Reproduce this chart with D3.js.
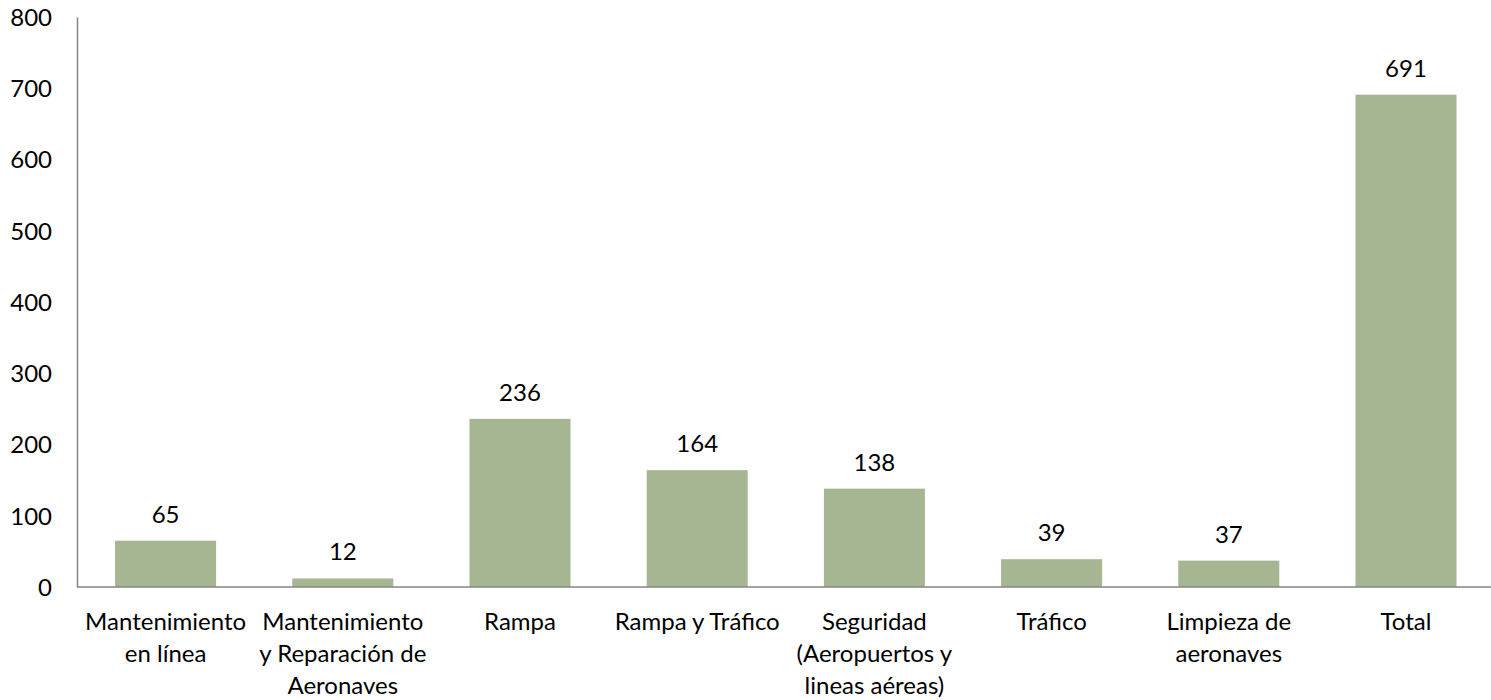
<!DOCTYPE html>
<html>
<head>
<meta charset="utf-8">
<script src="https://cdn.jsdelivr.net/npm/d3@7"></script>
<style>
  body { margin: 0; background: #fff; }
  svg text { font-family: Lato, "Open Sans", sans-serif; fill: #000; }
</style>
</head>
<body>
<svg id="chart"></svg>
<script>
// Category labels (line breaks as in the original)
var categories = [
    "Mantenimiento\nen línea",
    "Mantenimiento\ny Reparación de\nAeronaves",
    "Rampa",
    "Rampa y Tráfico",
    "Seguridad\n(Aeropuertos y\nlineas aéreas)",
    "Tráfico",
    "Limpieza de\naeronaves",
    "Total"
];
var values = [65, 12, 236, 164, 138, 39, 37, 691];
var yTicks = [0, 100, 200, 300, 400, 500, 600, 700, 800];

var width = 1491;
var height = 700;
var fontSize = 24;

var svg = d3.select("#chart")
    .attr("width", width)
    .attr("height", height);

// scales
var x = d3.scaleBand()
    .domain(categories)
    .range([77, 1494.6])
    .paddingInner(0.43)
    .paddingOuter(0.215);

var y = d3.scaleLinear()
    .domain([0, 800])
    .range([587, 17]);

// bars
svg.selectAll(".bar")
    .data(values)
    .enter().append("rect")
    .attr("class", "bar")
    .attr("x", function(d, i) { return x(categories[i]); })
    .attr("width", x.bandwidth())
    .attr("y", function(d) { return y(d); })
    .attr("height", function(d) { return y(0) - y(d); })
    .attr("fill", "#a6b592");

// value labels
svg.selectAll(".val")
    .data(values)
    .enter().append("text")
    .attr("class", "val")
    .attr("x", function(d, i) { return x(categories[i]) + x.bandwidth() / 2; })
    .attr("y", function(d) { return y(d) - 18; })
    .attr("text-anchor", "middle")
    .style("font-size", fontSize + "px")
    .text(function(d) { return d; });

// y axis (no tick marks, just the line and labels)
var yAxis = svg.append("g")
    .attr("transform", "translate(77,0)")
    .call(d3.axisLeft(y).tickValues(yTicks).tickSize(0).tickPadding(25));
yAxis.select(".domain").attr("stroke", "#868686").attr("stroke-width", 1.5);
yAxis.selectAll("text")
    .style("font-size", fontSize + "px")
    .style("font-family", "Lato, 'Open Sans', sans-serif")
    .attr("dy", "0.35em");

// x axis line
svg.append("line")
    .attr("x1", 77).attr("x2", width)
    .attr("y1", y(0)).attr("y2", y(0))
    .attr("stroke", "#868686")
    .attr("stroke-width", 1.5);

// category labels
var labels = svg.selectAll(".cat")
    .data(categories)
    .enter().append("text")
    .attr("class", "cat")
    .attr("text-anchor", "middle")
    .style("font-size", fontSize + "px");

labels.each(function(d) {
    var cx = x(d) + x.bandwidth() / 2;
    var lines = d.split("\n");
    var t = d3.select(this);
    lines.forEach(function(line, k) {
        t.append("tspan")
            .attr("x", cx)
            .attr("y", 630 + k * 32)
            .text(line);
    });
});
</script>
</body>
</html>
